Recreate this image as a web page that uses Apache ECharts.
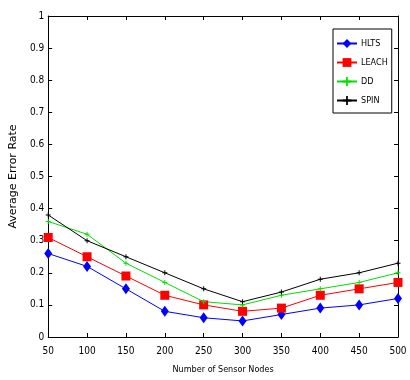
<!DOCTYPE html>
<html>
<head>
<meta charset="utf-8">
<script src="https://cdn.jsdelivr.net/npm/echarts@6/dist/echarts.min.js"></script>
<style>
  html, body { margin: 0; padding: 0; background: #fff; }
  #chart { width: 410px; height: 380px; }
</style>
</head>
<body>
<div id="chart"></div>
<script>
const nodes = [50, 100, 150, 200, 250, 300, 350, 400, 450, 500];
const hlts  = [0.26, 0.22, 0.15, 0.08, 0.06, 0.05, 0.07, 0.09, 0.10, 0.12];
const leach = [0.31, 0.25, 0.19, 0.13, 0.10, 0.08, 0.09, 0.13, 0.15, 0.17];
const dd    = [0.36, 0.32, 0.23, 0.17, 0.11, 0.10, 0.13, 0.15, 0.17, 0.20];
const spin  = [0.38, 0.30, 0.25, 0.20, 0.15, 0.11, 0.14, 0.18, 0.20, 0.23];

const narrow = '"DejaVu Sans Condensed", "Liberation Sans Narrow", sans-serif';
const plus = 'path://M2,0H3V2H5V3H3V5H2V3H0V2H2Z';

const pairs = vals => nodes.map((n, i) => [n, vals[i]]);

const axisBase = {
  axisLine: { show: true, onZero: false, lineStyle: { color: '#000', width: 1 } },
  axisTick: { show: true, inside: true, length: 4, lineStyle: { color: '#000' } },
  splitLine: { show: false }
};

const chart = echarts.init(document.getElementById('chart'));
chart.setOption({
  backgroundColor: '#fff',
  animation: false,
  grid: { left: 30, right: 12, top: 16, bottom: 43 },
  legend: {
    orient: 'vertical',
    left: 333,
    top: 29,
    padding: [10, 4, 8, 3],
    itemGap: 10,
    itemWidth: 20,
    itemHeight: 11,
    borderColor: '#000',
    borderWidth: 1,
    backgroundColor: '#fff',
    textStyle: { fontFamily: narrow, fontSize: 9, color: '#000', padding: [0, 0, 0, -1] },
    data: ['HLTS', 'LEACH', 'DD', 'SPIN']
  },
  xAxis: [
    Object.assign({}, axisBase, {
      type: 'value', min: 50, max: 500, interval: 50,
      name: 'Number of Sensor Nodes', nameLocation: 'middle', nameGap: 28,
      nameTextStyle: { fontFamily: narrow, fontSize: 9, color: '#000' },
      axisLabel: { fontFamily: narrow, fontSize: 10, color: '#000', margin: 9 }
    }),
    Object.assign({}, axisBase, {
      type: 'value', min: 50, max: 500, interval: 50, position: 'top',
      axisLabel: { show: false }
    })
  ],
  yAxis: [
    Object.assign({}, axisBase, {
      type: 'value', min: 0, max: 1, interval: 0.1,
      name: 'Average Error Rate', nameLocation: 'middle', nameGap: 18,
      nameTextStyle: { fontFamily: '"DejaVu Sans", sans-serif', fontSize: 11, color: '#000' },
      axisLabel: { fontFamily: narrow, fontSize: 10, color: '#000', margin: 4 }
    }),
    Object.assign({}, axisBase, {
      type: 'value', min: 0, max: 1, interval: 0.1, position: 'right',
      axisLabel: { show: false }
    })
  ],
  series: [
    {
      name: 'HLTS', type: 'line', data: pairs(hlts),
      symbol: 'diamond', symbolSize: [8, 11],
      itemStyle: { color: '#0000ff' }, lineStyle: { color: '#0000ff', width: 1 }
    },
    {
      name: 'LEACH', type: 'line', data: pairs(leach),
      symbol: 'rect', symbolSize: 9,
      itemStyle: { color: '#ff0000' }, lineStyle: { color: '#ff0000', width: 1 }
    },
    {
      name: 'DD', type: 'line', data: pairs(dd),
      symbol: plus, symbolSize: 5,
      itemStyle: { color: '#00e000' }, lineStyle: { color: '#00e000', width: 1 }
    },
    {
      name: 'SPIN', type: 'line', data: pairs(spin),
      symbol: plus, symbolSize: 5,
      itemStyle: { color: '#000' }, lineStyle: { color: '#000', width: 1 }
    }
  ]
});
</script>
</body>
</html>
